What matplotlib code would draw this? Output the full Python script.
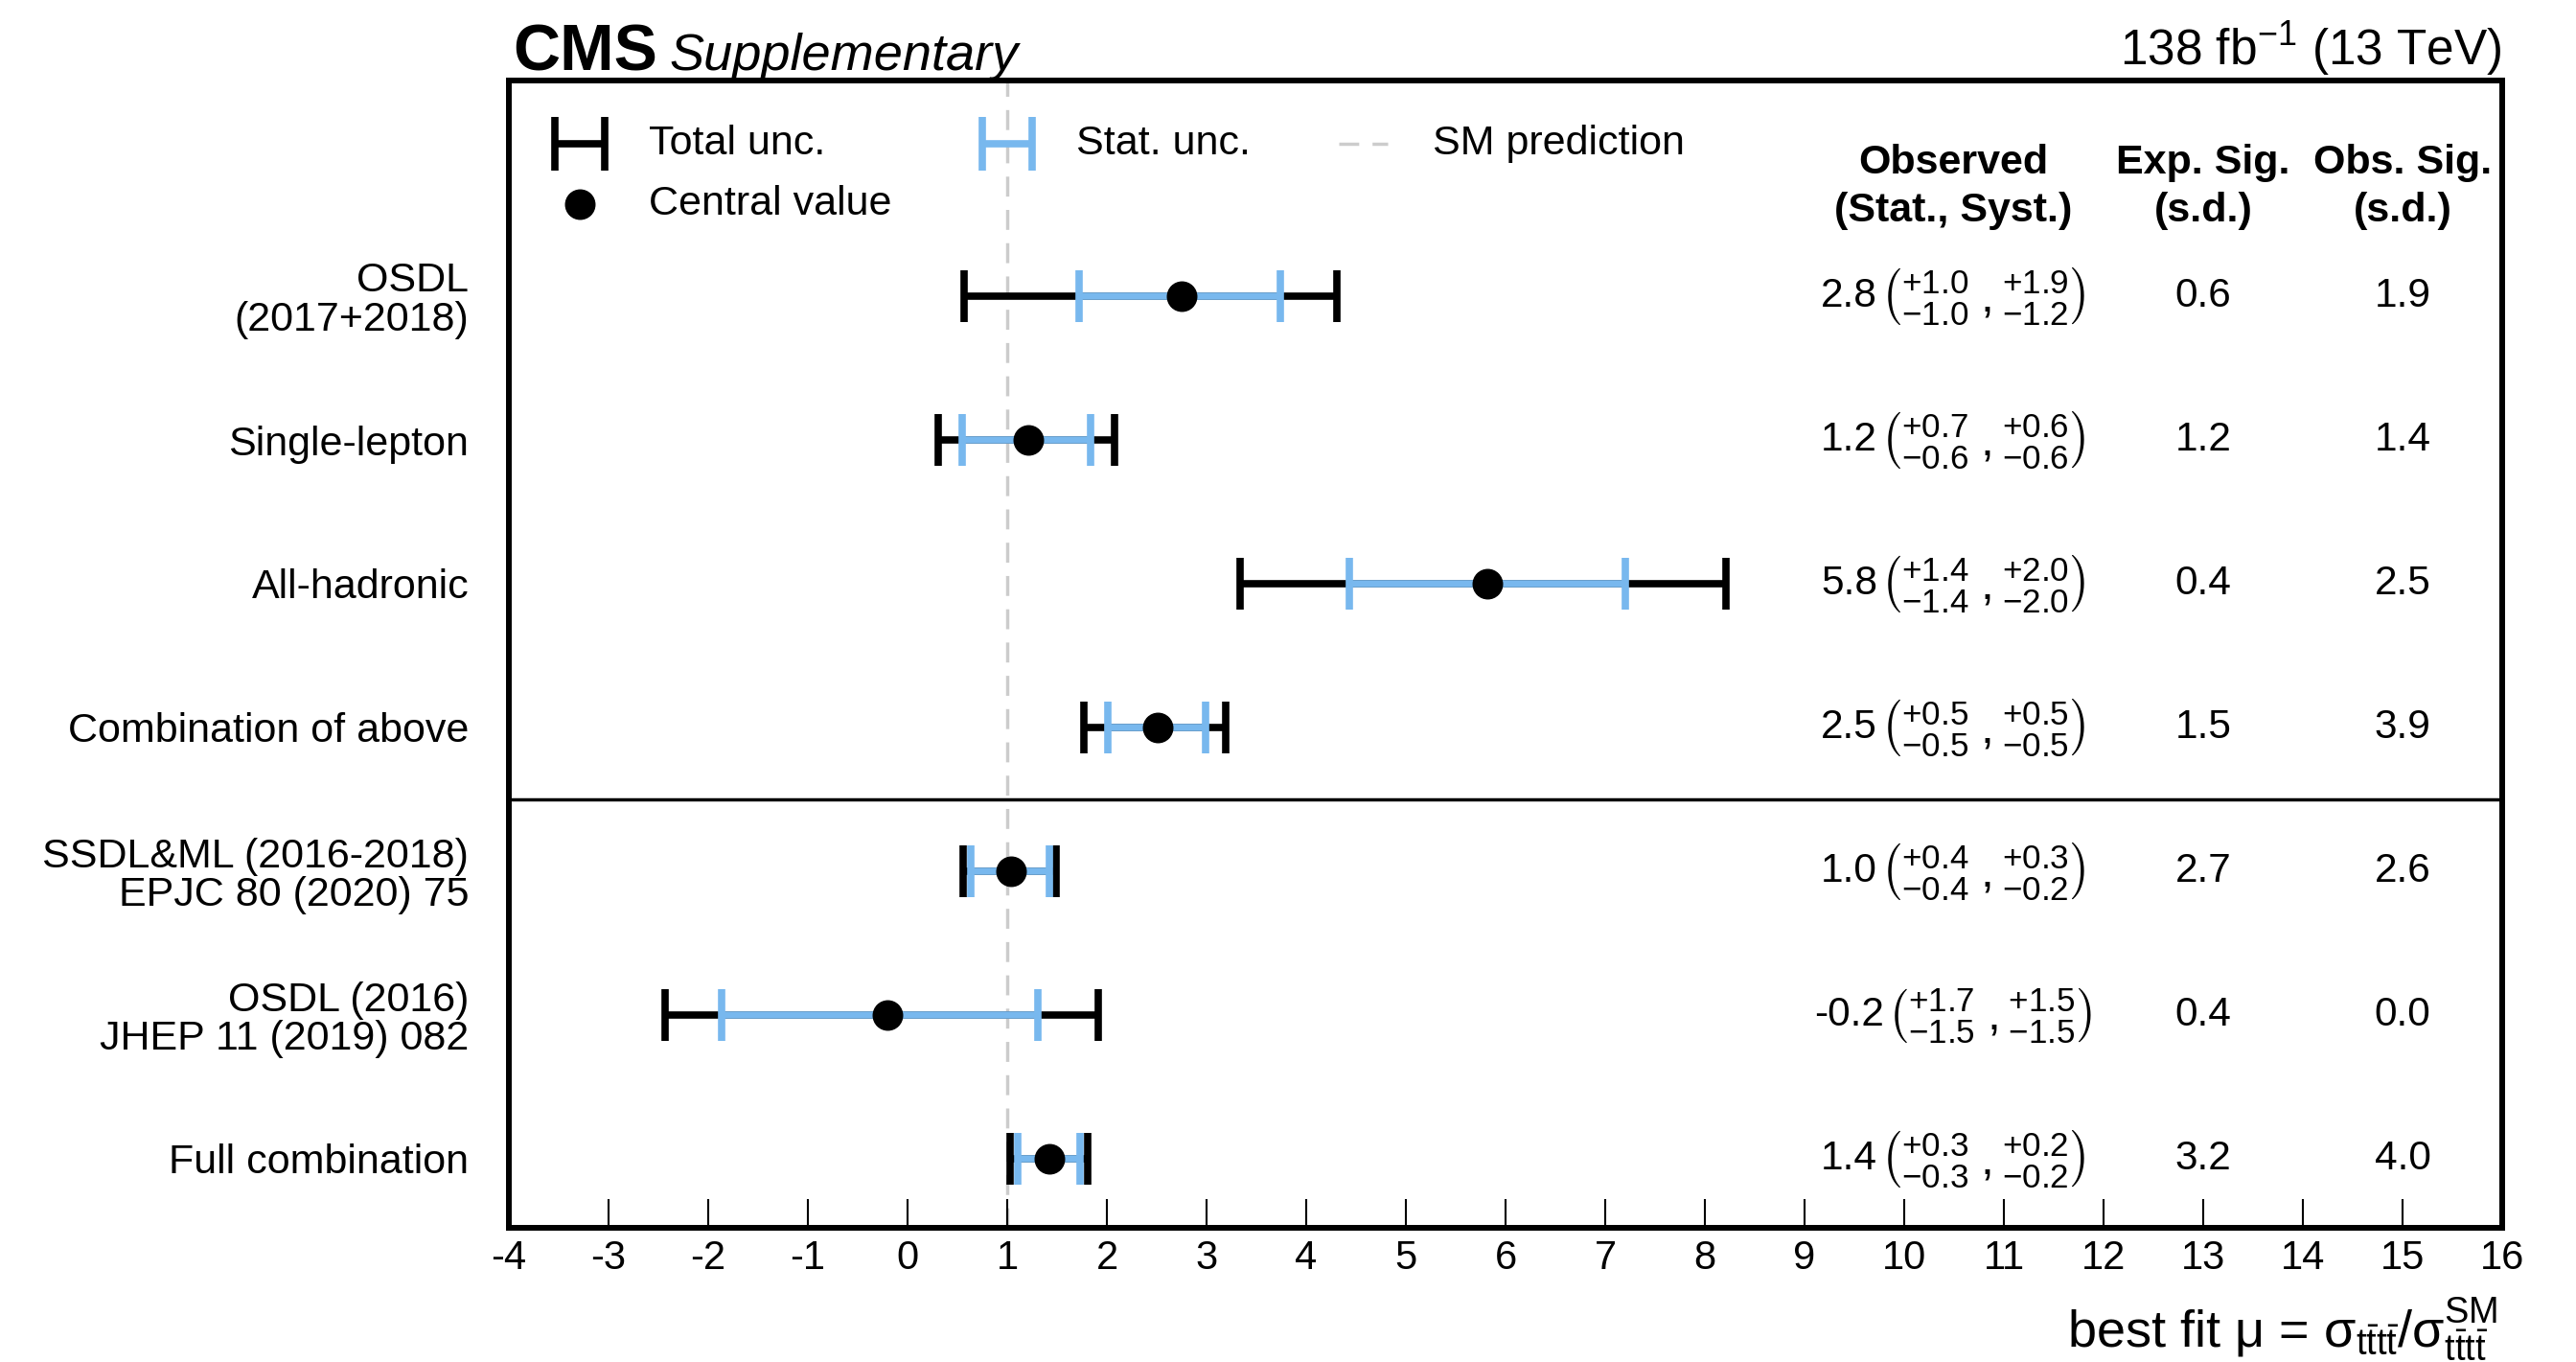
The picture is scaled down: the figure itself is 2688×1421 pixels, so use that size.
import matplotlib
matplotlib.use("Agg")
import matplotlib.pyplot as plt
import numpy as np
from matplotlib.transforms import offset_copy

plt.rcParams["font.family"] = ["Liberation Sans", "DejaVu Sans"]
plt.rcParams["mathtext.fontset"] = "custom"
plt.rcParams["mathtext.rm"] = "Liberation Sans"
plt.rcParams["mathtext.it"] = "Liberation Sans:italic"
plt.rcParams["mathtext.bf"] = "Liberation Sans:bold"
plt.rcParams["mathtext.sf"] = "Liberation Sans"
plt.rcParams["mathtext.default"] = "regular"

# ---- measurements ----
categories = [
    "OSDL\n(2017+2018)",
    "Single-lepton",
    "All-hadronic",
    "Combination of above",
    "SSDL&ML (2016-2018)\nEPJC 80 (2020) 75",
    "OSDL (2016)\nJHEP 11 (2019) 082",
    "Full combination",
]
mu = [2.75, 1.21, 5.82, 2.51, 1.04, -0.20, 1.42]
stat_lo = [1.72, 0.55, 4.43, 2.01, 0.63, -1.87, 1.11]
stat_hi = [3.74, 1.84, 7.20, 2.99, 1.42, 1.31, 1.73]
tot_lo = [0.57, 0.31, 3.34, 1.77, 0.56, -2.43, 1.03]
tot_hi = [4.31, 2.08, 8.21, 3.19, 1.49, 1.91, 1.81]
stat_up = [1.0, 0.7, 1.4, 0.5, 0.4, 1.7, 0.3]
stat_dn = [1.0, 0.6, 1.4, 0.5, 0.4, 1.5, 0.3]
syst_up = [1.9, 0.6, 2.0, 0.5, 0.3, 1.5, 0.2]
syst_dn = [1.2, 0.6, 2.0, 0.5, 0.2, 1.5, 0.2]
exp_sig = [0.6, 1.2, 0.4, 1.5, 2.7, 0.4, 3.2]
obs_sig = [1.9, 1.4, 2.5, 3.9, 2.6, 0.0, 4.0]
sm_value = 1.0
xticks = list(range(-4, 17))
xtick_labels = [str(v) for v in xticks]

BLUE = "#78b8ee"
GREY = "#cccccc"
FS = 31

W, H = 2688, 1421
fig = plt.figure(figsize=(W / 100, H / 100), dpi=100)
left, right, top, bottom = 531, 2611, 84, 1281
ax = fig.add_axes([left / W, 1 - bottom / H, (right - left) / W, (bottom - top) / H])

y = np.arange(len(categories))
mu_a = np.array(mu)

# SM prediction
ax.axvline(sm_value, color=GREY, lw=2.5, ls=(0, (6, 4)), zorder=0)

# total uncertainty
ax.errorbar(mu_a, y, xerr=[mu_a - np.array(tot_lo), np.array(tot_hi) - mu_a],
            fmt="none", ecolor="black", elinewidth=5.5, capsize=19.5, capthick=5.5, zorder=2)
# statistical uncertainty
ax.errorbar(mu_a, y, xerr=[mu_a - np.array(stat_lo), np.array(stat_hi) - mu_a],
            fmt="none", ecolor=BLUE, elinewidth=5.5, capsize=19.5, capthick=5.5, zorder=3)
# central values
ax.plot(mu_a, y, "o", color="black", ms=22, zorder=4)

# separator between new and earlier results
ax.axhline(3.5, color="black", lw=2.5)

# axes styling
ax.set_xlim(-4, 16)
ax.set_ylim(6.48, -1.5)
ax.set_xticks(xticks)
ax.set_xticklabels(xtick_labels, fontsize=30)
ax.tick_params(axis="x", direction="in", length=21.6, width=1.5, pad=9)
ax.set_yticks(y)
ax.set_yticklabels(categories, fontsize=FS, linespacing=1.0)
ax.tick_params(axis="y", length=0, pad=30)
for s in ax.spines.values():
    s.set_linewidth(4.3)

# per-row numbers: central value followed by stacked (stat, syst) uncertainties
x_obs, x_exp, x_sig = 10.49, 13.0, 15.0
renderer = fig.canvas.get_renderer()
gap_px = 3
for i in range(len(categories)):
    t_val = ax.text(x_obs, y[i], f"{mu[i]:.1f}", ha="left", va="center", fontsize=30.5)
    unc = (r"$\left({}^{+%.1f}_{-%.1f}\;,{}^{+%.1f}_{-%.1f}\right)$"
           % (stat_up[i], stat_dn[i], syst_up[i], syst_dn[i]))
    t_unc = ax.text(x_obs, y[i], unc, ha="left", va="center", fontsize=36)
    w1 = t_val.get_window_extent(renderer).width
    w2 = t_unc.get_window_extent(renderer).width
    total = w1 + gap_px + w2
    t_val.set_transform(offset_copy(ax.transData, fig=fig, x=-total / 2, y=0, units="dots"))
    t_unc.set_transform(offset_copy(ax.transData, fig=fig, x=-total / 2 + w1 + gap_px, y=0,
                                    units="dots"))
    ax.text(x_exp, y[i], f"{exp_sig[i]:.1f}", ha="center", va="center", fontsize=30.5)
    ax.text(x_sig, y[i], f"{obs_sig[i]:.1f}", ha="center", va="center", fontsize=30.5)

# column headers
y_h1, y_h2 = -0.926, -0.594
for xc, l1, l2 in [(x_obs, "Observed", "(Stat., Syst.)"),
                   (x_exp, "Exp. Sig.", "(s.d.)"),
                   (x_sig, "Obs. Sig.", "(s.d.)")]:
    ax.text(xc, y_h1, l1, ha="center", va="center", fontsize=FS, fontweight="bold")
    ax.text(xc, y_h2, l2, ha="center", va="center", fontsize=FS, fontweight="bold")

# legend entries
y_l1, y_l2 = -1.063, -0.64
ax.errorbar([-3.29], [y_l1], xerr=0.25, fmt="none", ecolor="black",
            elinewidth=5.5, capsize=20, capthick=5.5)
ax.text(-2.60, y_l1, "Total unc.", va="center", fontsize=FS)
ax.errorbar([sm_value], [y_l1], xerr=0.25, fmt="none", ecolor=BLUE,
            elinewidth=5.5, capsize=20, capthick=5.5)
ax.text(1.69, y_l1, "Stat. unc.", va="center", fontsize=FS)
ax.plot([4.33, 4.82], [y_l1, y_l1], color=GREY, lw=2.5, ls=(0, (6, 4)))
ax.text(5.27, y_l1, "SM prediction", va="center", fontsize=FS)
ax.plot([-3.29], [y_l2], "o", color="black", ms=22)
ax.text(-2.60, y_l2, "Central value", va="center", fontsize=FS)

# header
fig.text(535 / W, 1 - 73 / H, "CMS", fontsize=49, fontweight="bold", va="baseline")
fig.text(698 / W, 1 - 73 / H, "Supplementary", fontsize=39, style="italic", va="baseline")
fig.text(right / W, 1 - 68 / H, r"138 fb$^{-1}$ (13 TeV)", fontsize=37, ha="right", va="baseline")

# x-axis title
fig.text(2606 / W, 1 - 1405 / H,
         r"best fit μ = $\sigma_{\mathrm{t\bar{t}t\bar{t}}}/\sigma^{\mathrm{SM}}_{\mathrm{t\bar{t}t\bar{t}}}$",
         fontsize=39, ha="right", va="baseline")

fig.savefig("out.png", dpi=100)
